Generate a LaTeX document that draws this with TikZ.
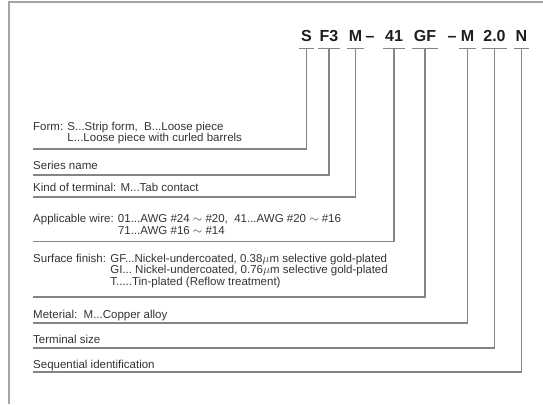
\documentclass[tikz,border=0pt]{standalone}
\usepackage{fontspec}
\setmainfont{Liberation Sans}
\setsansfont{Liberation Sans}
\usetikzlibrary{positioning}
\definecolor{LeadGray}{HTML}{858585}
\definecolor{FrameGray}{HTML}{A6A6A6}
\definecolor{TextInk}{HTML}{333333}
\definecolor{CodeInk}{HTML}{1E1E1E}
\newcommand{\awg}[2]{AWG \##1 $\sim$ \##2}

\begin{document}
\begin{tikzpicture}[x=1pt,y=-1pt,
    codepart/.style={font=\fontsize{16}{16}\selectfont\bfseries,text=CodeInk,anchor=base,
      inner xsep=1.5pt,inner ysep=6.8pt,text depth=0pt},
    desc/.style={font=\fontsize{11.5}{11.5}\selectfont,text=TextInk,anchor=base west,
      align=left,inner sep=0pt},
    leader/.style={LeadGray,line width=1.1pt}]
  \useasboundingbox (0,0) rectangle (543,404);
  \draw[FrameGray,line width=1.3pt] (9,404) -- (9,2) -- (543,2);

  \node[codepart] (cForm) at (306.5,41.5) {S};
  \node[codepart] (cSeries) at (329,41.5) {F3};
  \node[codepart] (cKind) at (355.5,41.5) {M};
  \node[codepart,inner ysep=0pt] (hyphA) at (370,41.5) {--};
  \node[codepart] (cWire) at (394,41.5) {41};
  \node[codepart] (cFinish) at (425,41.5) {GF};
  \node[codepart,inner ysep=0pt] (hyphB) at (452,41.5) {--};
  \node[codepart] (cMat) at (467.5,41.5) {M};
  \node[codepart] (cSize) at (494.5,41.5) {2.0};
  \node[codepart] (cSeq) at (521.5,41.5) {N};

  \foreach \p in {cForm,cSeries,cKind,cWire,cFinish,cMat,cSize,cSeq}
    \draw[leader] (\p.south west) -- (\p.south east);

  \coordinate (rForm) at (33,149);
  \coordinate (rSeries) at (33,175);
  \coordinate (rKind) at (33,197);
  \coordinate (rWire) at (33,241.5);
  \coordinate (rFinish) at (33,297);
  \coordinate (rMat) at (33,323);
  \coordinate (rSize) at (33,348);
  \coordinate (rSeq) at (33,372);

  \node[desc] (dForm) at (33,141.5)
    {Form: S...Strip form,\ \ B...Loose piece\\
     \hphantom{Form: }L...Loose piece with curled barrels};
  \node[desc] (dSeries) at (33,169) {Series name};
  \node[desc] (dKind) at (33,191) {Kind of terminal: M...Tab contact};
  \node[desc] (dWire) at (33,234)
    {Applicable wire: 01...\awg{24}{20},\ \ 41...\awg{20}{16}\\
     \hphantom{Applicable wire: }71...\awg{16}{14}};
  \node[desc] (dFinish) at (33,285)
    {Surface finish: GF...Nickel-undercoated, 0.38$\mu$m selective gold-plated\\
     \hphantom{Surface finish: }GI...\ Nickel-undercoated, 0.76$\mu$m selective gold-plated\\
     \hphantom{Surface finish: }T.....Tin-plated (Reflow treatment)};
  \node[desc] (dMat) at (33,318) {Meterial:\ \ M...Copper alloy};
  \node[desc] (dSize) at (33,343) {Terminal size};
  \node[desc] (dSeq) at (33,368) {Sequential identification};

  \draw[leader] (cForm.south) |- (rForm);
  \draw[leader] (cSeries.south) |- (rSeries);
  \draw[leader] (cKind.south) |- (rKind);
  \draw[leader] (cWire.south) |- (rWire);
  \draw[leader] (cFinish.south) |- (rFinish);
  \draw[leader] (cMat.south) |- (rMat);
  \draw[leader] (cSize.south) |- (rSize);
  \draw[leader] (cSeq.south) |- (rSeq);
\end{tikzpicture}
\end{document}
